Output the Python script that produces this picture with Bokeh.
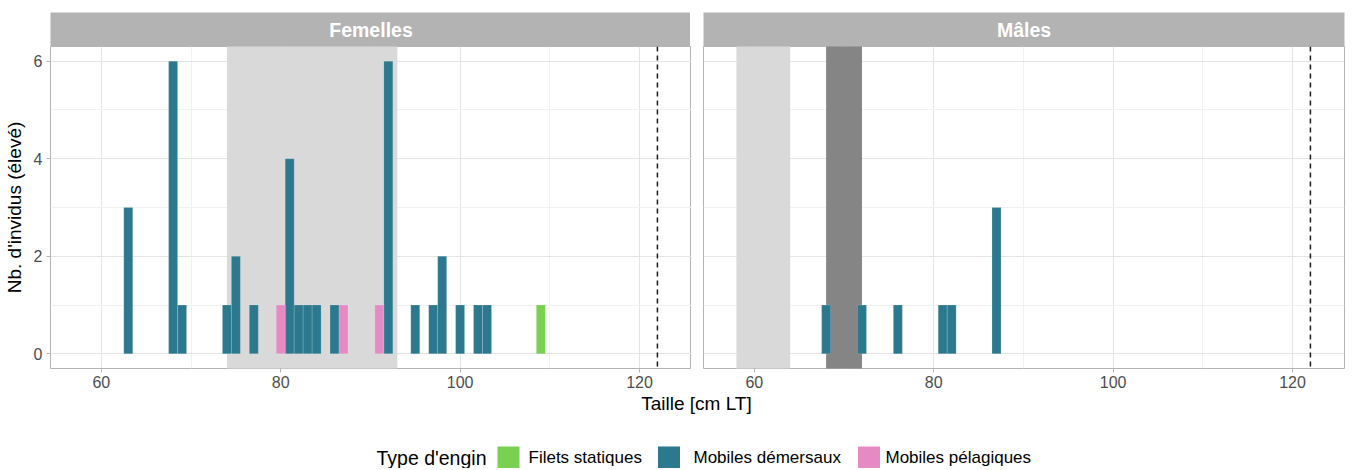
from bokeh.plotting import figure
from bokeh.layouts import column, row
from bokeh.models import Range1d, FixedTicker, Span
from bokeh.core.properties import value
from bokeh.embed import file_html
from bokeh.resources import INLINE

FONT = "Liberation Sans"

# ---------------- data ----------------
panel_names = ["Femelles", "Mâles"]
gears = ["Filets statiques", "Mobiles démersaux", "Mobiles pélagiques"]
gear_colors = ["#7AD151", "#2C788E", "#E68AC3"]

# Femelles
fem_stat_x = [109]
fem_stat_n = [1]
fem_dem_x = [63, 68, 69, 74, 75, 77, 81, 82, 83, 84, 86, 92, 95, 97, 98, 100, 102, 103]
fem_dem_n = [3, 6, 1, 1, 2, 1, 4, 1, 1, 1, 1, 6, 1, 1, 2, 1, 1, 1]
fem_pel_x = [80, 87, 91]
fem_pel_n = [1, 1, 1]

# Mâles
male_stat_x = []
male_stat_n = []
male_dem_x = [68, 72, 76, 81, 82, 87]
male_dem_n = [1, 1, 1, 1, 1, 3]
male_pel_x = []
male_pel_n = []

# shaded bands (size ranges)
fem_band_left = [74]
fem_band_right = [93]
fem_band_colors = ["#D9D9D9"]
male_band_left = [58, 68]
male_band_right = [64, 72]
male_band_colors = ["#D9D9D9", "#858585"]

ref_line = 122  # dashed reference size

x_ticks = [60, 80, 100, 120]
x_minor = [50, 70, 90, 110, 130]
y_ticks = [0, 2, 4, 6]
y_minor = [1, 3, 5]

x_title = "Taille [cm LT]"
y_title = "Nb. d'invidus (élevé)"
legend_title = "Type d'engin"

# ---------------- layout constants ----------------
FRAME_W = 641
FRAME_H = 322
LEFT_B = 49
GAP = 12
RIGHT_B = 1

x_range = Range1d(54.33, 125.8)
y_range = Range1d(-0.3, 6.3)


def style_panel(p, show_y):
    p.background_fill_color = "white"
    p.border_fill_color = "white"
    p.outline_line_color = "#B3B3B3"
    p.outline_line_width = 1
    for g, major, minor in ((p.xgrid, x_ticks, x_minor), (p.ygrid, y_ticks, y_minor)):
        g.ticker = FixedTicker(ticks=major, minor_ticks=minor)
        g.grid_line_color = "#E4E4E4"
        g.grid_line_width = 1
        g.minor_grid_line_color = "#F1F1F1"
        g.minor_grid_line_width = 1
    ax = p.xaxis[0]
    ax.ticker = FixedTicker(ticks=x_ticks, minor_ticks=x_minor)
    ax.axis_line_color = None
    ax.major_tick_line_color = "#B3B3B3"
    ax.major_tick_out = 4
    ax.major_tick_in = 0
    ax.minor_tick_line_color = None
    ax.major_label_text_font = FONT
    ax.major_label_text_font_size = "16px"
    ax.major_label_text_color = "#4D4D4D"
    ax.major_label_standoff = 3
    if show_y:
        ay = p.yaxis[0]
        ay.ticker = FixedTicker(ticks=y_ticks, minor_ticks=y_minor)
        ay.axis_line_color = None
        ay.major_tick_line_color = "#B3B3B3"
        ay.major_tick_out = 4
        ay.major_tick_in = 0
        ay.minor_tick_line_color = None
        ay.major_label_text_font = FONT
        ay.major_label_text_font_size = "16px"
        ay.major_label_text_color = "#4D4D4D"
        ay.major_label_standoff = 4
        ay.axis_label = y_title
        ay.axis_label_text_font = FONT
        ay.axis_label_text_font_size = "19px"
        ay.axis_label_text_font_style = "normal"
        ay.axis_label_text_color = "black"
        ay.axis_label_standoff = 6


def make_panel(name, band_l, band_r, band_c, series, left_b, right_b, show_y):
    strip = figure(frame_width=FRAME_W, frame_height=34,
                   x_range=Range1d(0, 1), y_range=Range1d(0, 1),
                   min_border_left=left_b, min_border_right=right_b,
                   min_border_top=12, min_border_bottom=0,
                   x_axis_location=None, y_axis_location=None,
                   output_backend="svg", toolbar_location=None)
    strip.grid.visible = False
    strip.background_fill_color = "#B3B3B3"
    strip.border_fill_color = "white"
    strip.outline_line_color = None
    strip.text(x=[0.5], y=[0.5], text=[name], text_font=value(FONT),
               text_font_size="19.5px", text_font_style="bold", text_color="white",
               text_align="center", text_baseline="middle")

    p = figure(frame_width=FRAME_W, frame_height=FRAME_H,
               x_range=x_range, y_range=y_range,
               min_border_left=left_b, min_border_right=right_b,
               min_border_top=0, min_border_bottom=24,
               y_axis_location="left" if show_y else None,
               output_backend="svg", toolbar_location=None)
    style_panel(p, show_y)

    p.quad(left=band_l, right=band_r, bottom=[-1] * len(band_l), top=[10] * len(band_l),
           fill_color=band_c, line_color=None)

    for (xs, ns), col in zip(series, gear_colors):
        if xs:
            p.vbar(x=xs, top=ns, bottom=0, width=1, fill_color=col,
                   line_color="white", line_alpha=0.25, line_width=0.6)

    p.add_layout(Span(location=ref_line, dimension="height", line_color="#1A1A1A",
                      line_width=1.5, line_dash="5 4"))
    return column(strip, p)


left = make_panel(panel_names[0], fem_band_left, fem_band_right, fem_band_colors,
                  [(fem_stat_x, fem_stat_n), (fem_dem_x, fem_dem_n), (fem_pel_x, fem_pel_n)],
                  LEFT_B, 0, True)
right = make_panel(panel_names[1], male_band_left, male_band_right, male_band_colors,
                   [(male_stat_x, male_stat_n), (male_dem_x, male_dem_n), (male_pel_x, male_pel_n)],
                   GAP, RIGHT_B, False)

# ---------------- footer: x title + legend ----------------
TOTAL_W = LEFT_B + FRAME_W + GAP + FRAME_W + RIGHT_B
FOOT_H = 76
foot = figure(width=TOTAL_W, height=FOOT_H, x_range=Range1d(0, TOTAL_W), y_range=Range1d(0, FOOT_H),
              min_border=0, x_axis_location=None, y_axis_location=None,
              output_backend="svg", toolbar_location=None)
foot.grid.visible = False
foot.outline_line_color = None
foot.background_fill_color = "white"
foot.border_fill_color = "white"

title_x = LEFT_B + (2 * FRAME_W + GAP) / 2
foot.text(x=[title_x], y=[FOOT_H - 11], text=[x_title], text_font=value(FONT),
          text_font_size="19px", text_color="black", text_align="center", text_baseline="middle")

leg_y = 11
key_cx = [508, 668.5, 868.5]
txt_x = [528, 693, 885]
foot.text(x=[376], y=[leg_y], text=[legend_title], text_font=value(FONT), text_font_size="19.5px",
          text_color="black", text_align="left", text_baseline="middle")
foot.rect(x=key_cx, y=[leg_y] * 3, width=22, height=22, fill_color=gear_colors, line_color=None)
foot.text(x=txt_x, y=[leg_y] * 3, text=gears, text_font=value(FONT), text_font_size="17px",
          text_color="black", text_align="left", text_baseline="middle")

layout = column(row(left, right), foot)

open("out.html", "w").write(file_html(layout, INLINE))
